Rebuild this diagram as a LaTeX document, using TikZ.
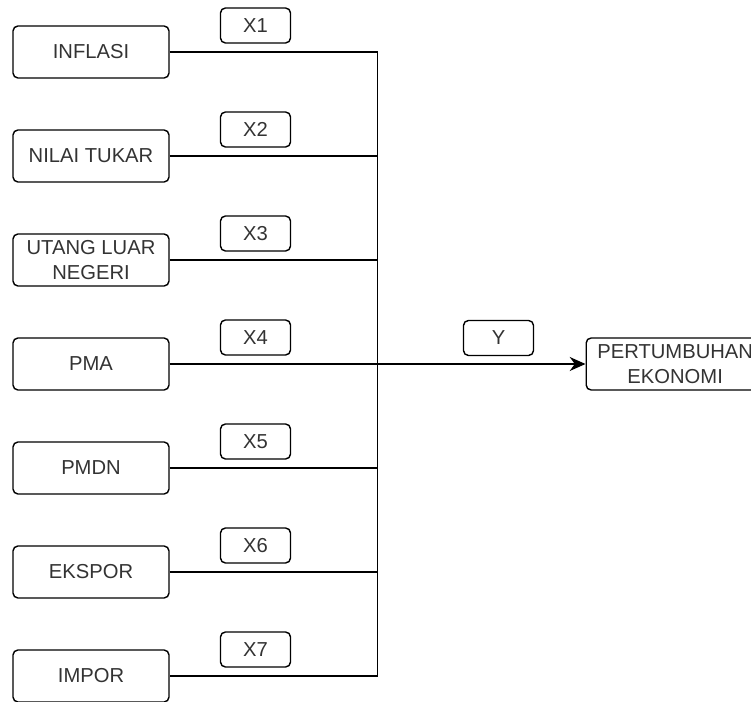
\documentclass[tikz,border=0pt]{standalone}
\usepackage{fontspec}
\setmainfont{Liberation Sans}
\usetikzlibrary{arrows.meta}

\begin{document}
\begin{tikzpicture}[x=0.02cm,y=-0.02cm,line width=0.8pt,
  varbox/.style={draw,rounded corners=2.8pt,minimum width=3.12cm,minimum height=1.04cm,
    align=center,inner sep=1pt,text=black!80,font=\fontsize{11.5}{14}\selectfont},
  tagbox/.style={draw,rounded corners=2.8pt,minimum width=1.4cm,minimum height=0.7cm,
    inner sep=1pt,text=black!80,font=\fontsize{11.5}{14}\selectfont}]
  % seven variables joined on one bus that feeds the outcome box
  \useasboundingbox (0,0) rectangle (751,702);
  \foreach \i/\lbl in {1/INFLASI,2/NILAI TUKAR,3/{UTANG LUAR\\NEGERI},4/PMA,5/PMDN,6/EKSPOR,7/IMPOR} {
    \node[varbox] (v\i) at (91,{52+104*(\i-1)}) {\lbl};
    \node[tagbox] (x\i) at (255.5,{25.5+104*(\i-1)}) {X\i};
  }
  \coordinate (bus) at (377.5,0);
  \node[varbox,minimum width=3.56cm,anchor=west] (target) at (585.5,364) {PERTUMBUHAN\\EKONOMI};
  \node[tagbox] (ytag) at (498.5,338) {Y};
  \draw (v1.east) -- (v1.east -| bus) -- (v7.east -| bus) -- (v7.east);
  \foreach \i in {2,...,6}
    \draw (v\i.east) -- (v\i.east -| bus);
  \draw[-{Stealth[length=9pt,width=8pt]}] (v4.east -| bus) -- (target.west);
\end{tikzpicture}
\end{document}
